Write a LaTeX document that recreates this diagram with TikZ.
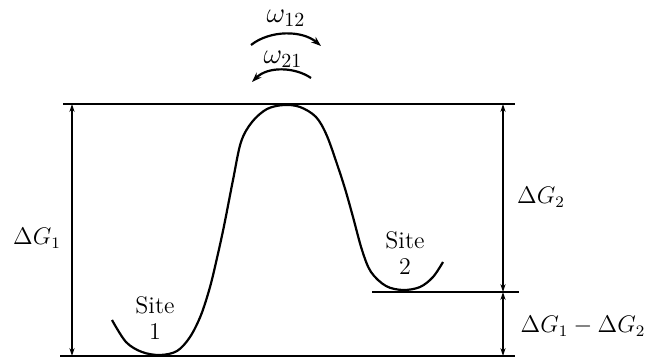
\documentclass[tikz,border=0pt]{standalone}
\usepackage{amsmath}
\usetikzlibrary{arrows.meta}
\begin{document}
\begin{tikzpicture}[x=0.5pt, y=-0.5pt, every node/.style={font=\large, inner sep=1pt}, level/.style={line width=1.1pt}, dim/.style={{Stealth[length=4pt,width=2.6pt]}-{Stealth[length=4pt,width=2.6pt]}, line width=0.6pt}, rate/.style={line width=1.1pt, -{Stealth[length=5pt,width=3.5pt]}}]
\useasboundingbox (0,0) rectangle (651,358);
% levels
\coordinate (tl) at (63,104); \coordinate (tr) at (515,104);
\coordinate (bl) at (60,356); \coordinate (br) at (515,356);
\coordinate (ml) at (372,292); \coordinate (mr) at (519,292);
\draw[level] (tl) -- (tr); \draw[level] (bl) -- (br); \draw[level] (ml) -- (mr);
% potential
\draw[line width=1.1pt] plot[smooth, tension=0.55] coordinates {(112,320) (126,342) (142,352) (160,355) (177,351) (190,337) (201,315) (210,287) (217,258) (224,226) (233,180) (241,142) (252,122) (267,109) (284,105) (300,107) (316,117) (327,136) (339,170) (346,192) (353,217) (362,250) (371,272) (386,286) (403,290) (420,287) (433,277) (443,262)};
% dimensions
\coordinate (g1t) at (72,104); \coordinate (g1b) at (72,356);
\coordinate (g2t) at (503,104); \coordinate (g2m) at (503,292); \coordinate (g2b) at (503,356);
\draw[dim] (g1t) -- (g1b); \draw[dim] (g2t) -- (g2m); \draw[dim] (g2m) -- (g2b);
\node (dg1) at (37,238) {$\Delta G_1$};
\node (dg2) at (541,197) {$\Delta G_2$};
\node (dg12) at (583,326) {$\Delta G_1 - \Delta G_2$};
% sites
\node[align=center, font=\large\linespread{0.95}\selectfont] (s1) at (155,318) {Site\\1};
\node[align=center, font=\large\linespread{0.95}\selectfont] (s2) at (405,253) {Site\\2};
% rates
\node[font=\Large] (w12) at (286,18) {$\omega_{12}$};
\node[font=\Large] (w21) at (283,59) {$\omega_{21}$};
\coordinate (a1s) at (251,45); \coordinate (a1e) at (321,46);
\coordinate (a2s) at (311,78); \coordinate (a2e) at (252,82);
\draw[rate] (a1s) .. controls (270,30) and (302,30) .. (a1e);
\draw[rate] (a2s) .. controls (295,67) and (268,66) .. (a2e);
\end{tikzpicture}
\end{document}
